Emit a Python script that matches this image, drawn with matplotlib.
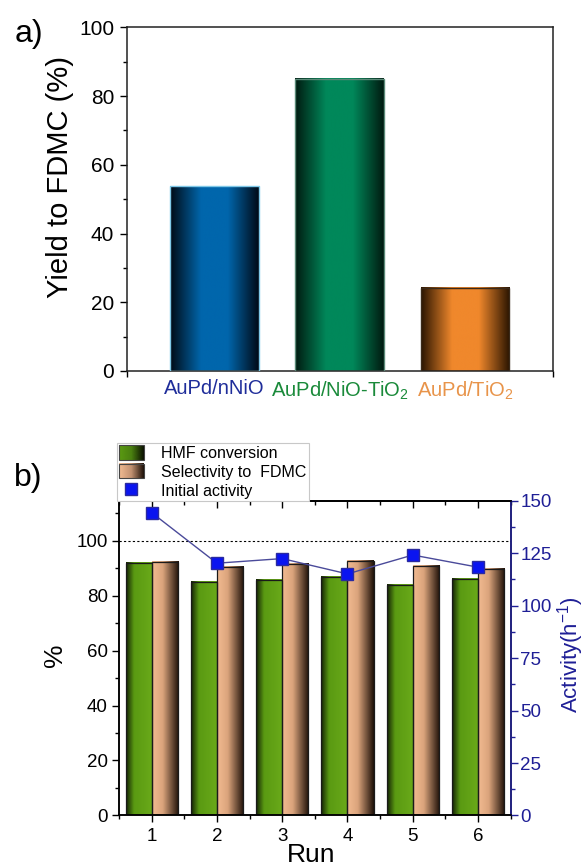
import numpy as np
import matplotlib
matplotlib.use('Agg')
import matplotlib.pyplot as plt
from matplotlib.colors import LinearSegmentedColormap
from matplotlib.ticker import MultipleLocator
from matplotlib.legend_handler import HandlerBase
from matplotlib.image import BboxImage
from matplotlib.transforms import Bbox, TransformedBbox
from matplotlib.patches import Patch, Rectangle
from matplotlib.lines import Line2D

plt.rcParams['font.family'] = ['Liberation Sans', 'DejaVu Sans']
plt.rcParams['mathtext.default'] = 'regular'

'''DATA'''
catalysts = ['AuPd/nNiO', 'AuPd/NiO-TiO$_2$', 'AuPd/TiO$_2$']
yield_fdmc = [53.7, 85.0, 24.2]

runs = [1, 2, 3, 4, 5, 6]
hmf_conversion = [91.8, 84.9, 85.8, 86.8, 83.9, 86.0]
selectivity = [92.1, 90.4, 91.5, 92.5, 90.7, 89.6]
activity = [144.3, 120.2, 122.4, 115.1, 124.1, 118.3]

'''COLOURS'''
navy = '#1f1f96'
cm_blue = LinearSegmentedColormap.from_list('blue', [(0, '#000a14'), (0.35, '#0066ac'), (0.65, '#0066ac'), (1, '#000a16')])
cm_green = LinearSegmentedColormap.from_list('green', [(0, '#001a10'), (0.35, '#00885a'), (0.65, '#00885a'), (1, '#001a10')])
cm_orange = LinearSegmentedColormap.from_list('orange', [(0, '#2a1400'), (0.35, '#f0882c'), (0.65, '#f0882c'), (1, '#2a1400')])
cm_hmf = LinearSegmentedColormap.from_list('hmf', [(0, '#132005'), (0.3, '#5a9a12'), (1, '#6aaa1a')])
cm_sel = LinearSegmentedColormap.from_list('sel', [(0, '#f2bb92'), (0.4, '#dba47c'), (1, '#1e1008')])
cm_hmf_leg = LinearSegmentedColormap.from_list('hmf_leg', ['#5a9a12', '#4a8010', '#0a1000'])
cm_sel_leg = LinearSegmentedColormap.from_list('sel_leg', ['#f2bb92', '#c09070', '#1e1008'])
label_colours = ['#1f2d9a', '#1a8a3a', '#e8944a']


def gradient_bars(ax, x, h, w, cmap, edge, lw=1.0):
    bars = ax.bar(x, h, w, facecolor='none', edgecolor=edge, linewidth=lw, zorder=3)
    g = np.linspace(0, 1, 256).reshape(1, -1)
    for r in bars:
        x0, y0 = r.get_x(), r.get_y()
        ax.imshow(g, cmap=cmap, extent=[x0, x0 + r.get_width(), y0, y0 + r.get_height()],
                  aspect='auto', interpolation='bicubic', zorder=2)
    return bars


class GradientHandler(HandlerBase):
    def __init__(self, cmap):
        super().__init__()
        self.cmap = cmap

    def create_artists(self, legend, orig_handle, xdescent, ydescent, width, height, fontsize, trans):
        bb = TransformedBbox(Bbox.from_bounds(-xdescent, -ydescent, width, height), trans)
        img = BboxImage(bb, cmap=self.cmap, interpolation='bicubic')
        img.set_data(np.linspace(0, 1, 64).reshape(1, -1))
        rect = Rectangle((-xdescent, -ydescent), width, height, facecolor='none',
                         edgecolor='#444444', linewidth=0.8, transform=trans)
        return [img, rect]


fig = plt.figure(figsize=(5.87, 8.68), dpi=100)

'''PANEL A'''
ax1 = fig.add_axes([0.2158, 0.5726, 0.7258, 0.3959])
for i in range(3):
    gradient_bars(ax1, [i + 1], [yield_fdmc[i]], 0.71, [cm_blue, cm_green, cm_orange][i],
                  ['#7ec8e8', '#5a8a78', '#3a2a1a'][i])
ax1.set_xlim(0.3, 3.7)
ax1.set_ylim(0, 100)
ax1.yaxis.set_major_locator(MultipleLocator(20))
ax1.yaxis.set_minor_locator(MultipleLocator(10))
ax1.set_xticks([1, 2, 3])
ax1.set_xticklabels(catalysts)
ax1.set_xticks([0.3, 3.7], minor=True)
for lab, c in zip(ax1.get_xticklabels(), label_colours):
    lab.set_color(c)
ax1.tick_params(axis='x', which='major', length=0, pad=6, labelsize=14.5)
ax1.tick_params(axis='x', which='minor', length=4, width=1, direction='out')
ax1.tick_params(axis='y', which='major', length=5, width=1, direction='out', pad=4, labelsize=15)
ax1.tick_params(axis='y', which='minor', length=3, width=1, direction='out')
for s in ax1.spines.values():
    s.set_linewidth(1.1)
    s.set_color('#222222')

fig.text(59.5 / 587, 1 - 177.5 / 868, 'Yield to FDMC (%)', rotation=90, ha='center', va='center', fontsize=21)
fig.text(29 / 587, 1 - 34 / 868, 'a)', ha='center', va='center', fontsize=23)

'''PANEL B'''
ax = fig.add_axes([0.2027, 0.0605, 0.6673, 0.3627])
x = np.array(runs)
gradient_bars(ax, x - 0.2, hmf_conversion, 0.4, cm_hmf, '#1a1a1a', lw=0.9)
gradient_bars(ax, x + 0.2, selectivity, 0.4, cm_sel, '#1a1a1a', lw=0.9)
ax.axhline(100, color='k', linestyle=(0, (2, 2)), linewidth=0.8, zorder=1)
ax.set_xlim(0.5, 6.5)
ax.set_ylim(0, 114.5)
ax.set_xticks(runs)
ax.xaxis.set_minor_locator(MultipleLocator(0.5))
ax.yaxis.set_major_locator(MultipleLocator(20))
ax.yaxis.set_minor_locator(MultipleLocator(10))
ax.tick_params(axis='both', which='major', length=5, width=1, direction='out', pad=3, labelsize=13.5)
ax.tick_params(axis='both', which='minor', length=3, width=1, direction='out')
ax.tick_params(axis='x', pad=4)

top = ax.secondary_xaxis('top')
top.set_xticks(runs)
top.xaxis.set_minor_locator(MultipleLocator(0.5))
top.tick_params(which='major', direction='in', length=5, width=1, labeltop=False)
top.tick_params(which='minor', direction='in', length=3, width=1)

ax2 = ax.twinx()
ax2.plot(runs, activity, color='#4a4a9a', linewidth=1, marker='s', markersize=8,
         markerfacecolor='#0a14f0', markeredgecolor='#2a2aa0', zorder=5)
ax2.set_ylim(0, 150)
ax2.yaxis.set_major_locator(MultipleLocator(25))
ax2.yaxis.set_minor_locator(MultipleLocator(12.5))
ax2.tick_params(axis='y', which='major', length=5, width=1, direction='out', pad=2,
                labelsize=13.5, colors=navy)
ax2.tick_params(axis='y', which='minor', length=3, width=1, direction='out', colors=navy)
ax2.spines['right'].set_color(navy)
for s in list(ax.spines.values()) + list(ax2.spines.values()) + list(top.spines.values()):
    s.set_linewidth(1.1)

handles = [Patch(facecolor='#5a9a12'), Patch(facecolor='#f2bb92'),
           Line2D([], [], linestyle='none', marker='s', markersize=9,
                  markerfacecolor='#0a14f0', markeredgecolor='#2a2aa0')]
labels = ['HMF conversion', 'Selectivity to  FDMC', 'Initial activity']
leg = fig.legend(handles, labels, loc='lower left', bbox_to_anchor=(116.7 / 587, 1 - 501 / 868),
                 handler_map={handles[0]: GradientHandler(cm_hmf_leg), handles[1]: GradientHandler(cm_sel_leg)},
                 fontsize=11.5, handlelength=1.55, handleheight=1.0, handletextpad=1.1,
                 labelspacing=0.2, borderpad=0.15, borderaxespad=0, fancybox=False,
                 framealpha=1, edgecolor='#c8c8c8')
leg.get_frame().set_linewidth(0.8)

fig.text(54.7 / 587, 1 - 655 / 868, '%', rotation=90, ha='center', va='center', fontsize=19)
fig.text(311 / 587, 1 - 855 / 868, 'Run', ha='center', va='center', fontsize=19)
fig.text(571 / 587, 1 - 655 / 868, 'Activity(h$^{-1}$)', rotation=90, ha='center', va='center',
         fontsize=16, color=navy)
fig.text(28.5 / 587, 1 - 478 / 868, 'b)', ha='center', va='center', fontsize=23)

fig.savefig('out.png', dpi=100)
